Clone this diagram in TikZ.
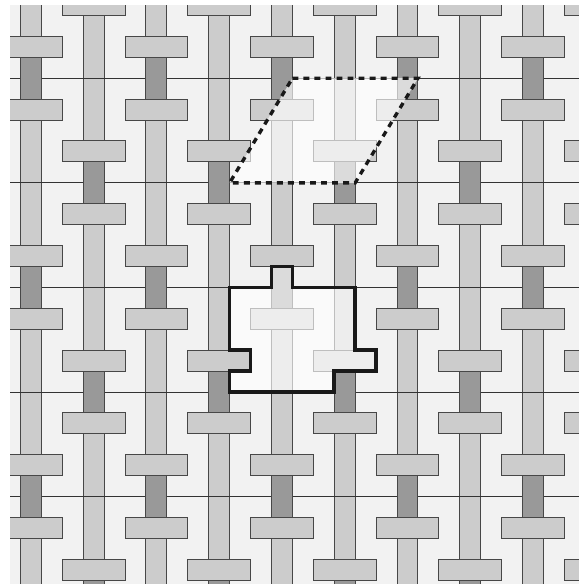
\documentclass[tikz,border=0pt]{standalone}
\definecolor{bgc}{HTML}{F2F2F2}
\definecolor{lightc}{HTML}{CCCCCC}
\definecolor{darkc}{HTML}{999999}
\tikzset{
  strip/.style={fill=lightc, draw=black!72, line width=0.7pt},
  under/.style={fill=darkc, draw=black!72, line width=0.7pt},
  crossbar/.style={fill=lightc, draw=black!72, line width=0.7pt},
  gridline/.style={draw=black!80, line width=0.65pt},
  fade/.style={fill=white, fill opacity=0.65},
  dashedborder/.style={draw=black!90, line width=2.3pt, dash pattern=on 4pt off 3.5pt},
  boldborder/.style={draw=black!90, line width=2.4pt, line join=miter},
}
\newcommand\wvpair[2]{%
  \draw[under] (#1-0.5,#2-1) rectangle (#1+0.5,#2+1);
  \draw[crossbar] (#1-1.5,#2-2) rectangle (#1+1.5,#2-1);
  \draw[crossbar] (#1-1.5,#2+1) rectangle (#1+1.5,#2+2);
}
\begin{document}
\begin{tikzpicture}[x=0.5cm,y=-0.5cm]
\useasboundingbox (-0.478,-0.239) rectangle (27.199,27.677);
\fill[white] (-0.478,-0.239) rectangle (27.199,27.677);
\begin{scope}
  \clip (0,0) rectangle (27.199,27.677);
  \fill[bgc] (0,0) rectangle (27.199,27.677);
  % vertical strips
  \foreach \i in {0,...,9} {
    \pgfmathsetmacro\cx{1+3*\i}
    \draw[strip] (\cx-0.5,-1) rectangle (\cx+0.5,29);
  }
  % horizontal grid lines
  \foreach \k in {-1,...,5} {
    \pgfmathsetmacro\yy{3.5+5*\k}
    \draw[gridline] (-1,\yy) -- (29,\yy);
  }
  % crossings
  \foreach \i in {0,2,...,8} {
    \foreach \k in {-2,0,2,4,6} {
      \pgfmathsetmacro\cx{1+3*\i}
      \pgfmathsetmacro\yy{3.5+5*\k}
      \wvpair{\cx}{\yy}
    }
  }
  \foreach \i in {1,3,...,9} {
    \foreach \k in {-1,1,3,5} {
      \pgfmathsetmacro\cx{1+3*\i}
      \pgfmathsetmacro\yy{3.5+5*\k}
      \wvpair{\cx}{\yy}
    }
  }
  % highlighted regions
  \fill[fade] (13.5,3.5) -- (19.5,3.5) -- (16.5,8.5) -- (10.5,8.5) -- cycle;
  \draw[dashedborder] (13.5,3.5) -- (19.5,3.5) -- (16.5,8.5) -- (10.5,8.5) -- cycle;
  \fill[fade] (12.5,12.5) -- (13.5,12.5) -- (13.5,13.5) -- (16.5,13.5) -- (16.5,16.5) -- (17.5,16.5) -- (17.5,17.5) -- (15.5,17.5) -- (15.5,18.5) -- (10.5,18.5) -- (10.5,17.5) -- (11.5,17.5) -- (11.5,16.5) -- (10.5,16.5) -- (10.5,13.5) -- (12.5,13.5) -- cycle;
  \draw[boldborder] (12.5,12.5) -- (13.5,12.5) -- (13.5,13.5) -- (16.5,13.5) -- (16.5,16.5) -- (17.5,16.5) -- (17.5,17.5) -- (15.5,17.5) -- (15.5,18.5) -- (10.5,18.5) -- (10.5,17.5) -- (11.5,17.5) -- (11.5,16.5) -- (10.5,16.5) -- (10.5,13.5) -- (12.5,13.5) -- cycle;
\end{scope}
\end{tikzpicture}
\end{document}
